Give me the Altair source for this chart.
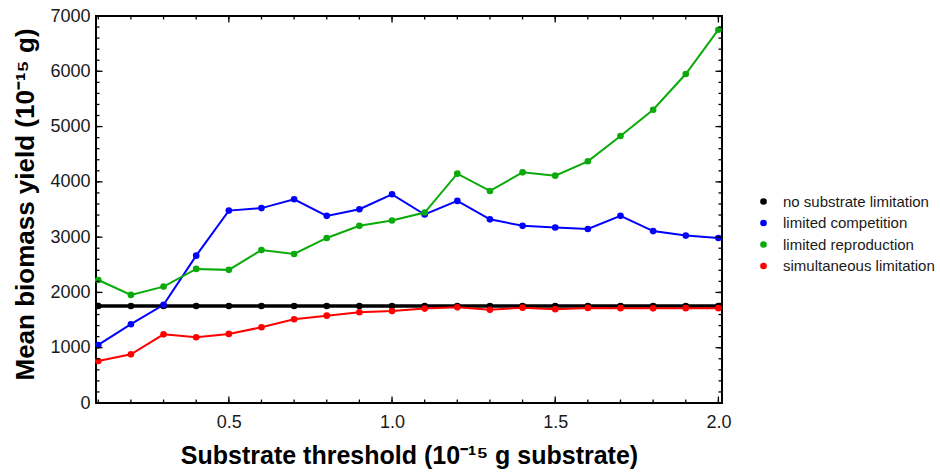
import altair as alt
import pandas as pd

# ---- data ----
x_vals = [0.1, 0.2, 0.3, 0.4, 0.5, 0.6, 0.7, 0.8, 0.9, 1.0,
          1.1, 1.2, 1.3, 1.4, 1.5, 1.6, 1.7, 1.8, 1.9, 2.0]

series_names = ["no substrate limitation", "limited competition",
                "limited reproduction", "simultaneous limitation"]
series_colors = ["#000000", "#0000ff", "#0aaa0a", "#ff0000"]
series_widths = [3.5, 2, 2, 2]

no_limit = [1755, 1755, 1755, 1755, 1755, 1755, 1755, 1755, 1755, 1755,
            1755, 1755, 1755, 1755, 1755, 1755, 1755, 1755, 1755, 1755]
competition = [1050, 1425, 1775, 2665, 3480, 3525, 3685, 3385, 3505, 3775,
               3410, 3655, 3322, 3205, 3175, 3148, 3385, 3110, 3028, 2985]
reproduction = [2225, 1955, 2105, 2425, 2408, 2768, 2695, 2985, 3205, 3300,
                3445, 4148, 3835, 4172, 4112, 4372, 4830, 5305, 5950, 6752]
simultaneous = [760, 880, 1242, 1190, 1250, 1370, 1515, 1580, 1642, 1665,
                1708, 1730, 1685, 1725, 1697, 1720, 1715, 1712, 1715, 1715]

x_tick_minor = [0.1, 0.2, 0.3, 0.4, 0.5, 0.6, 0.7, 0.8, 0.9, 1.0,
                1.1, 1.2, 1.3, 1.4, 1.5, 1.6, 1.7, 1.8, 1.9, 2.0]
x_tick_major = [0.5, 1.0, 1.5, 2.0]
y_tick_minor = [0, 200, 400, 600, 800, 1000, 1200, 1400, 1600, 1800, 2000,
                2200, 2400, 2600, 2800, 3000, 3200, 3400, 3600, 3800, 4000,
                4200, 4400, 4600, 4800, 5000, 5200, 5400, 5600, 5800, 6000,
                6200, 6400, 6600, 6800, 7000]
y_tick_major = [0, 1000, 2000, 3000, 4000, 5000, 6000, 7000]

rows = []
for name, vals in zip(series_names, [no_limit, competition, reproduction, simultaneous]):
    for xv, yv in zip(x_vals, vals):
        rows.append({"x": xv, "y": yv, "series": name})
df = pd.DataFrame(rows)

W, H = 626, 387
FONT = "Liberation Sans"

xscale = alt.Scale(domain=[0.093, 2.011], nice=False, zero=False)
yscale = alt.Scale(domain=[0, 7000], nice=False, zero=False)
cscale = alt.Scale(domain=series_names, range=series_colors)

xaxis = alt.Axis(values=x_tick_major, format=".1f", ticks=False, domain=False, grid=False,
                 labelFont=FONT, labelFontSize=18, labelPadding=10, labelColor="#1a1a1a",
                 title="Substrate threshold (10⁻¹⁵ g substrate)", titleFont=FONT,
                 titleFontSize=25, titleFontWeight="bold", titleColor="black",
                 titleBaseline="alphabetic", titleY=60.5)
yaxis = alt.Axis(values=y_tick_major, format="d", ticks=False, domain=False, grid=False,
                 labelFont=FONT, labelFontSize=18, labelPadding=6, labelColor="#1a1a1a",
                 title="Mean biomass yield (10⁻¹⁵ g)", titleFont=FONT,
                 titleFontSize=26, titleFontWeight="bold", titleColor="black",
                 titleAngle=-90, titleAlign="center", titleBaseline="alphabetic",
                 titleX=-63, titleY=188)

X = alt.X("x:Q", scale=xscale, axis=xaxis)
Y = alt.Y("y:Q", scale=yscale, axis=yaxis)

base = alt.Chart(df)

line_layers = []
for name, col, sw in zip(series_names, series_colors, series_widths):
    line_layers.append(
        base.transform_filter(alt.datum.series == name)
        .mark_line(color=col, strokeWidth=sw)
        .encode(x=X, y=Y)
    )

points = base.mark_circle(size=44, opacity=1).encode(
    x=X, y=Y,
    color=alt.Color("series:N", scale=cscale, sort=series_names,
                    legend=alt.Legend(orient="none", legendX=660, legendY=178, title=None,
                                      symbolType="circle", symbolSize=44, symbolStrokeWidth=0,
                                      labelFont=FONT, labelFontSize=15, labelColor="#1a1a1a",
                                      labelLimit=400, labelOffset=12, rowPadding=5.5,
                                      padding=0)),
)


def x_ticks(vals, length):
    d = pd.DataFrame({"x": vals})
    bottom = alt.Chart(d).mark_rule(color="black", strokeWidth=1.3).encode(
        x=X, y=alt.value(H), y2=alt.value(H - length))
    top = alt.Chart(d).mark_rule(color="black", strokeWidth=1.3).encode(
        x=X, y=alt.value(0), y2=alt.value(length))
    return [bottom, top]


def y_ticks(vals, length):
    d = pd.DataFrame({"y": vals})
    left = alt.Chart(d).mark_rule(color="black", strokeWidth=1.3).encode(
        y=Y, x=alt.value(0), x2=alt.value(length))
    right = alt.Chart(d).mark_rule(color="black", strokeWidth=1.3).encode(
        y=Y, x=alt.value(W), x2=alt.value(W - length))
    return [left, right]


tick_layers = (x_ticks(x_tick_minor, 3.5) + x_ticks(x_tick_major, 6.5)
               + y_ticks(y_tick_minor, 3.5) + y_ticks(y_tick_major, 6.5))

chart = alt.layer(
    *line_layers, points, *tick_layers
).properties(
    width=W, height=H,
    background="white",
    autosize=alt.AutoSizeParams(type="none"),
    padding={"left": 96, "top": 16, "right": 218, "bottom": 69},
).configure_view(
    stroke="black", strokeWidth=2
)

chart.save("out.html", embed_options={"renderer": "svg", "actions": False})
